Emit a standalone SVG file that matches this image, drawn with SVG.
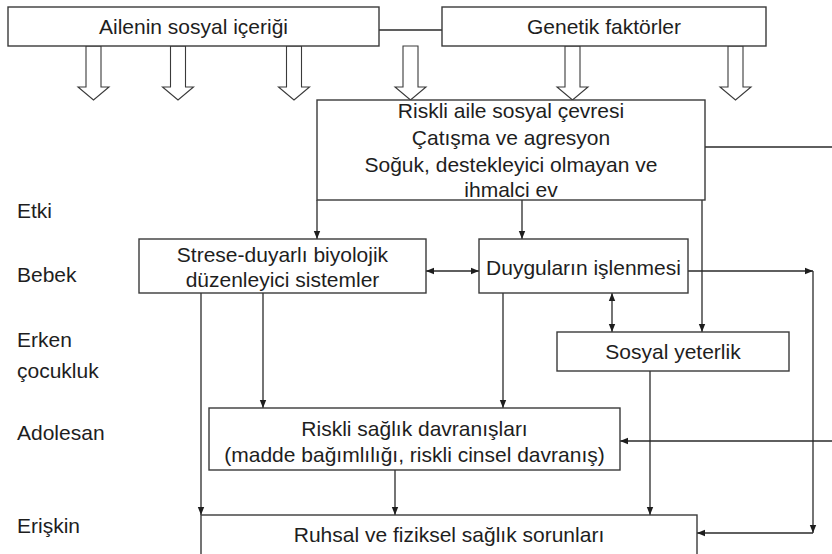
<svg xmlns="http://www.w3.org/2000/svg" width="832" height="554" viewBox="0 0 832 554">
<style>
  .box { fill: #ffffff; stroke: #3a3a3a; stroke-width: 1.4; }
  .t { font-family: "Liberation Sans", Arial, sans-serif; font-size: 21px; fill: #1e1e1e; }
  .tm { text-anchor: middle; }
  .c { fill: none; stroke: #2a2a2a; stroke-width: 1.3; }
  .ha { fill: #ffffff; stroke: #3a3a3a; stroke-width: 1.1; }
</style>
<defs>
  <marker id="ah" viewBox="0 0 10 10" refX="10" refY="5" markerWidth="8" markerHeight="8" markerUnits="userSpaceOnUse" orient="auto-start-reverse">
    <path d="M0,1 L10,5 L0,9 z" fill="#1e1e1e"/>
  </marker>
</defs>
<rect width="832" height="554" fill="#ffffff"/>

<g id="stage-labels">
  <text class="t" x="17" y="218">Etki</text>
  <text class="t" x="17" y="282">Bebek</text>
  <text class="t" x="17" y="347">Erken</text>
  <text class="t" x="17" y="378">çocukluk</text>
  <text class="t" x="17" y="440">Adolesan</text>
  <text class="t" x="17" y="533">Erişkin</text>
</g>

<g id="connectors">
  <line class="c" x1="379" y1="30" x2="442" y2="30"/>
  <g id="hollow-arrows">
    <polygon class="ha" points="86,46 101,46 101,87 109,87 93.5,100 78,87 86,87"/>
    <polygon class="ha" points="170.5,46 185.5,46 185.5,87 193.5,87 178,100 162.5,87 170.5,87"/>
    <polygon class="ha" points="286.5,46 301.5,46 301.5,87 309.5,87 294,100 278.5,87 286.5,87"/>
    <polygon class="ha" points="403,46 418,46 418,87 426,87 410.5,100 395,87 403,87"/>
    <polygon class="ha" points="565,46 580,46 580,87 588,87 572.5,100 557,87 565,87"/>
    <polygon class="ha" points="728,46 743,46 743,87 751,87 735.5,100 720,87 728,87"/>
  </g>
  <line class="c" x1="317" y1="200" x2="317" y2="239" marker-end="url(#ah)"/>
  <line class="c" x1="522" y1="200" x2="522" y2="239" marker-end="url(#ah)"/>
  <line class="c" x1="702" y1="200" x2="702" y2="332" marker-end="url(#ah)"/>
  <line class="c" x1="705" y1="147" x2="832" y2="147"/>
  <line class="c" x1="426" y1="271" x2="479" y2="271" marker-start="url(#ah)" marker-end="url(#ah)"/>
  <line class="c" x1="612" y1="293" x2="612" y2="332" marker-start="url(#ah)" marker-end="url(#ah)"/>
  <line class="c" x1="688" y1="271" x2="813" y2="271" marker-end="url(#ah)"/>
  <line class="c" x1="813" y1="271" x2="813" y2="533" marker-end="url(#ah)"/>
  <line class="c" x1="813" y1="533" x2="697" y2="533" marker-end="url(#ah)"/>
  <line class="c" x1="832" y1="441" x2="620" y2="441" marker-end="url(#ah)"/>
  <line class="c" x1="201" y1="293" x2="201" y2="515" marker-end="url(#ah)"/>
  <line class="c" x1="263" y1="293" x2="263" y2="408" marker-end="url(#ah)"/>
  <line class="c" x1="503" y1="293" x2="503" y2="408" marker-end="url(#ah)"/>
  <line class="c" x1="395" y1="470" x2="395" y2="515" marker-end="url(#ah)"/>
  <line class="c" x1="650" y1="371" x2="650" y2="515" marker-end="url(#ah)"/>
</g>

<g id="ailenin">
  <rect class="box" x="8" y="7" width="371" height="39"/>
  <text class="t tm" x="193.5" y="34">Ailenin sosyal içeriği</text>
</g>
<g id="genetik">
  <rect class="box" x="442" y="7" width="324" height="39"/>
  <text class="t tm" x="604" y="34">Genetik faktörler</text>
</g>
<g id="riskli-aile">
  <rect class="box" x="317" y="100" width="388" height="100"/>
  <text class="t tm" x="511" y="118">Riskli aile sosyal çevresi</text>
  <text class="t tm" x="511" y="145">Çatışma ve agresyon</text>
  <text class="t tm" x="511" y="172">Soğuk, destekleyici olmayan ve</text>
  <text class="t tm" x="511" y="197">ihmalci ev</text>
</g>
<g id="stres">
  <rect class="box" x="139" y="239" width="287" height="54"/>
  <text class="t tm" x="282.5" y="262">Strese-duyarlı biyolojik</text>
  <text class="t tm" x="282.5" y="287">düzenleyici sistemler</text>
</g>
<g id="duygular">
  <rect class="box" x="479" y="239" width="209" height="54"/>
  <text class="t tm" x="583.5" y="275">Duyguların işlenmesi</text>
</g>
<g id="sosyal">
  <rect class="box" x="557" y="332" width="232" height="39"/>
  <text class="t tm" x="673" y="359">Sosyal yeterlik</text>
</g>
<g id="riskli-saglik">
  <rect class="box" x="209" y="408" width="411" height="62"/>
  <text class="t tm" x="414.5" y="436">Riskli sağlık davranışları</text>
  <text class="t tm" x="414.5" y="462">(madde bağımlılığı, riskli cinsel davranış)</text>
</g>
<g id="ruhsal">
  <rect class="box" x="201" y="515" width="496" height="60"/>
  <text class="t tm" x="449" y="542">Ruhsal ve fiziksel sağlık sorunları</text>
</g>
</svg>
